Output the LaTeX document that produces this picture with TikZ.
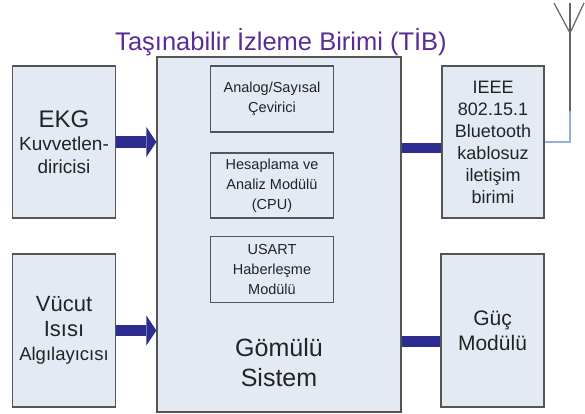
\documentclass[tikz,border=0pt]{standalone}
\usepackage{fontspec}
\setmainfont{Liberation Sans}
\usetikzlibrary{arrows.meta}
\definecolor{kutuzemin}{RGB}{228,234,244}
\definecolor{kutukenar}{RGB}{85,85,85}
\definecolor{okmavi}{RGB}{45,45,145}
\definecolor{baslikmor}{RGB}{90,45,150}
\definecolor{antenmavi}{RGB}{150,175,215}
\definecolor{antengri}{RGB}{100,100,100}
\definecolor{yazi}{RGB}{35,35,35}
\begin{document}
\begin{tikzpicture}[x=1pt, y=-1pt,
        kutu/.style={draw=kutukenar, line width=1.2pt, fill=kutuzemin, text=yazi, align=center, inner sep=0pt},
        ickutu/.style={kutu, minimum width=123pt, minimum height=66pt, font=\fontsize{14.5}{20}\selectfont},
        kalinok/.style={okmavi, line width=11pt, -{Triangle[length=10pt, width=30pt, line width=0pt]}},
        baglanti/.style={okmavi, line width=10pt}]
        \useasboundingbox (0,0) rectangle (585,414);

        % Titolo
        \node[text=baslikmor, font=\fontsize{25.5}{30}\selectfont] (baslik) at (281,42) {Taşınabilir İzleme Birimi (TİB)};

        % Blocchi a sinistra
        \node[kutu, minimum width=103pt, minimum height=152pt, font=\fontsize{19}{23}\selectfont] (ekg) at (64,142)
            {{\fontsize{24}{27}\selectfont EKG}\\Kuvvetlen-\\diricisi};
        \node[kutu, minimum width=103pt, minimum height=153pt, font=\fontsize{22}{24.5}\selectfont] (vucut) at (64,330.5)
            {Vücut\\Isısı\\{\fontsize{18.5}{24.5}\selectfont Algılayıcısı}};

        % Sistema centrale con i sottomoduli
        \node[kutu, minimum width=244pt, minimum height=355pt] (gomulu) at (279,234.5) {};
        \node[ickutu] (adc) at (272,99) {Analog/Sayısal\\Çevirici};
        \node[ickutu, minimum height=65pt] (cpu) at (272,185.5) {Hesaplama ve\\Analiz Modülü\\(CPU)};
        \node[ickutu] (usart) at (272,269.5) {USART\\Haberleşme\\Modülü};
        \node[text=yazi, align=center, font=\fontsize{25}{30}\selectfont] (gomuluyazi) at (279,363) {Gömülü\\Sistem};

        % Blocchi a destra
        \node[kutu, minimum width=102pt, minimum height=152pt, font=\fontsize{18}{22}\selectfont] (bt) at (493,142)
            {IEEE\\802.15.1\\Bluetooth\\kablosuz\\iletişim\\birimi};
        \node[kutu, minimum width=103pt, minimum height=153pt, font=\fontsize{21}{25}\selectfont] (guc) at (492.5,330.5)
            {Güç\\Modülü};

        % Frecce di ingresso
        \draw[kalinok] (ekg.east) -- (ekg.east -| gomulu.west);
        \draw[kalinok] (vucut.east) -- (vucut.east -| gomulu.west);

        % Collegamenti a destra
        \coordinate (btgiris) at ([yshift=-6pt]bt.west);
        \coordinate (gucgiris) at ([yshift=-10.5pt]guc.west);
        \draw[baglanti] (btgiris -| gomulu.east) -- (btgiris);
        \draw[baglanti, line width=11pt] (gucgiris -| gomulu.east) -- (gucgiris);

        % Antenna
        \coordinate (antendip) at (570,111);
        \coordinate (antenuc) at (570,33);
        \draw[antenmavi, line width=1.2pt] (bt.east) -| (antendip);
        \draw[antengri, line width=1.2pt] (antendip) -- (antenuc);
        \foreach \x in {554,570,584}
            \draw[antengri, line width=1.2pt] (antenuc) -- (\x,3);
    \end{tikzpicture}
\end{document}
